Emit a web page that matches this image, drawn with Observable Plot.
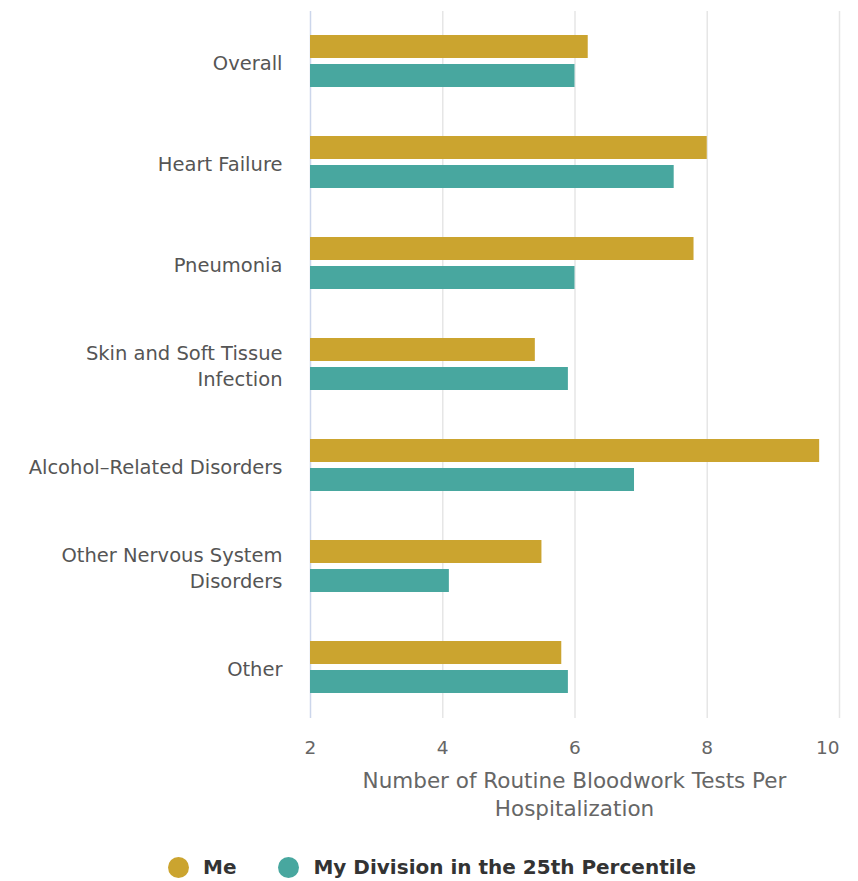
<!DOCTYPE html>
<html>
<head>
<meta charset="utf-8">
<script src="https://cdn.jsdelivr.net/npm/d3@7"></script>
<script src="https://cdn.jsdelivr.net/npm/@observablehq/plot@0.6"></script>
<style>
  body { margin: 0; background: #fff; font-family: "DejaVu Sans", sans-serif; }
  #chart svg { display: block; }
  .xtitle { margin-top: 7px; padding-left: 310px; padding-right: 19px; text-align: center;
            font-size: 21.5px; line-height: 28px; color: #666; }
  .legend { margin-top: 29px; padding-left: 168px; display: flex; align-items: center;
            font-size: 20px; font-weight: bold; color: #333; height: 30px; }
  .legend .sw { width: 21px; height: 21px; border-radius: 50%; margin-right: 14px; display: inline-block; }
  .legend .item { display: flex; align-items: center; margin-right: 42px; }
</style>
</head>
<body>
<div id="chart"></div>
<script>
const categories = ["Overall", "Heart Failure", "Pneumonia", "Skin and Soft Tissue Infection",
  "Alcohol-Related Disorders", "Other Nervous System Disorders", "Other"];
const categoryLabels = ["Overall", "Heart Failure", "Pneumonia", "Skin and Soft Tissue\nInfection",
  "Alcohol–Related Disorders", "Other Nervous System\nDisorders", "Other"];
const series = ["Me", "My Division in the 25th Percentile"];
const meValues = [6.2, 8.0, 7.8, 5.4, 9.7, 5.5, 5.8];
const divisionValues = [6.0, 7.5, 6.0, 5.9, 6.9, 4.1, 5.9];
const xTicks = [2, 4, 6, 8, 10];
const colors = ["#cba42f", "#48a79f"];
const xTitle = ["Number of Routine Bloodwork Tests Per", "Hospitalization"];

const xMin = xTicks[0];
const labelOf = new Map(categories.map((c, i) => [c, categoryLabels[i]]));
const data = categories.flatMap((c, i) => [
  {category: c, series: series[0], value: meValues[i]},
  {category: c, series: series[1], value: divisionValues[i]}
]);

const chart = Plot.plot({
  width: 858,
  height: 760,
  marginTop: 10,
  marginBottom: 42,
  marginLeft: 310,
  marginRight: 19,
  style: {fontFamily: "DejaVu Sans, sans-serif", background: "#fff"},
  x: {domain: [xTicks[0], xTicks[xTicks.length - 1]]},
  fy: {domain: categories, padding: 0},
  y: {domain: series, paddingInner: 0.2, paddingOuter: 0.785, axis: null},
  color: {domain: series, range: colors},
  marks: [
    Plot.gridX(xTicks.slice(1), {stroke: "#e6e6e6", strokeOpacity: 1, strokeWidth: 1.5}),
    Plot.ruleX([xMin], {stroke: "#ccd6eb", strokeWidth: 1.5}),
    Plot.barX(data, {fy: "category", y: "series", x1: xMin, x2: "value", fill: "series"}),
    Plot.axisX(xTicks.slice(0, -1), {tickSize: 0, tickPadding: 22, fontSize: 18.5, fill: "#666", label: null}),
    Plot.axisX(xTicks.slice(-1), {tickSize: 0, tickPadding: 22, fontSize: 18.5, fill: "#666", label: null, textAnchor: "end"}),
    Plot.axisFy({anchor: "left", tickSize: 0, tickPadding: 28, fontSize: 19.5, fill: "#555",
      lineHeight: 1.3, label: null, tickFormat: d => labelOf.get(d)})
  ]
});
document.getElementById("chart").appendChild(chart);

const t = document.createElement("div");
t.className = "xtitle";
t.innerHTML = xTitle.join("<br>");
document.body.appendChild(t);

const lg = document.createElement("div");
lg.className = "legend";
series.forEach((s, i) => {
  const item = document.createElement("span");
  item.className = "item";
  const sw = document.createElement("span");
  sw.className = "sw";
  sw.style.background = colors[i];
  item.appendChild(sw);
  item.appendChild(document.createTextNode(s));
  lg.appendChild(item);
});
document.body.appendChild(lg);
</script>
</body>
</html>
